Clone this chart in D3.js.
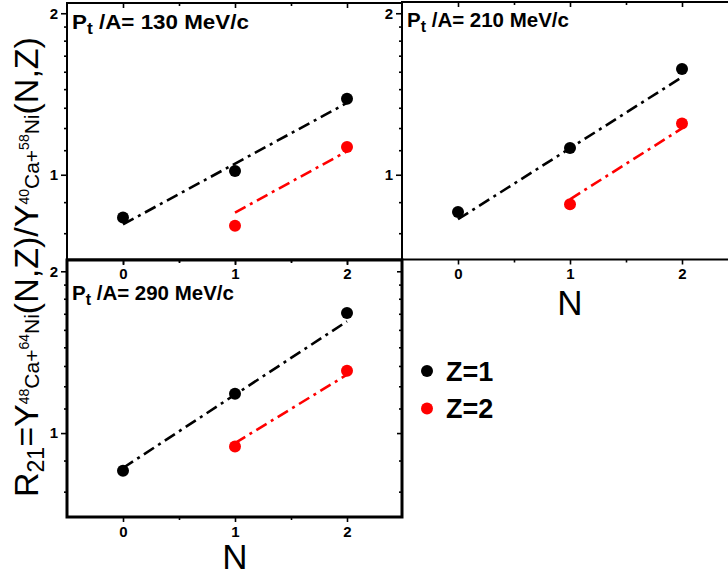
<!DOCTYPE html>
<html><head><meta charset="utf-8">
<script src="https://cdn.jsdelivr.net/npm/d3@7"></script>
<style>
body{margin:0;background:#fff}
svg{display:block}
text{font-family:"Liberation Sans",Arial,Helvetica,sans-serif}
</style>
</head><body>
<svg id="c" width="728" height="575"></svg>
<script>
// ---- data ----
const N_z1 = [0, 1, 2];
const N_z2 = [1, 2];
const fitN_z1 = [0, 2];
const fitN_z2 = [1, 2];
const ptLabels = ["130", "210", "290"];
const z1_130 = [0.832, 1.016, 1.386];
const z2_130 = [0.803, 1.127];
const fit1_130 = [0.808, 1.361];
const fit2_130 = [0.850, 1.106];
const z1_210 = [0.852, 1.122, 1.574];
const z2_210 = [0.881, 1.246];
const fit1_210 = [0.826, 1.52];
const fit2_210 = [0.900, 1.22];
const z1_290 = [0.851, 1.184, 1.673];
const z2_290 = [0.944, 1.306];
const fit1_290 = [0.861, 1.614];
const fit2_290 = [0.958, 1.284];
const xTicks = [0, 1, 2];
const xMinor = [0.5, 1.5];
const yTicks = [1, 2];
const yMinor = [0.778, 0.889, 1.111, 1.222, 1.333, 1.444, 1.556, 1.667, 1.778, 1.889];
const legendLabels = ["Z=1", "Z=2"];
const colors = ["#000000", "#ff0000"];

const svg = d3.select("#c");

const panels = [
  {pt: ptLabels[0], lx: 67, ft: 3, fb: 259.5, yt: 3, yb: 259.5, z1: z1_130, z2: z2_130, f1: fit1_130, f2: fit2_130, sw: 2, lblW: 177, lblY: 28.5, showN: false},
  {pt: ptLabels[1], lx: 402, ft: 2, fb: 259.5, yt: 3, yb: 259.5, z1: z1_210, z2: z2_210, f1: fit1_210, f2: fit2_210, sw: 2, lblW: 162, lblY: 27, showN: true},
  {pt: ptLabels[2], lx: 67, ft: 260, fb: 517, yt: 261, yb: 518, z1: z1_290, z2: z2_290, f1: fit1_290, f2: fit2_290, sw: 3, lblW: 162, lblY: 300, showN: true, rightAxis: true}
];

function styleAxis(g) {
  g.select(".domain").remove();
  g.attr("font-size", null).attr("font-family", null);
  g.selectAll(".tick line").attr("stroke", "#000").attr("stroke-width", 1.6);
  g.selectAll(".tick text").attr("fill", "#000")
    .style("font-size", "15px").style("font-weight", "bold")
    .style("font-family", '"Liberation Sans",Arial,sans-serif');
}

panels.forEach((p, i) => {
  const x = d3.scaleLinear([-0.5, 2.5], [p.lx, p.lx + 336]);
  const y = d3.scaleLog([0.695, 2.09], [p.yb, p.yt]);
  const g = svg.append("g");

  // frame
  g.append("rect").attr("x", p.lx).attr("y", p.ft)
    .attr("width", i === 1 ? 400 : 335).attr("height", p.fb - p.ft)
    .attr("fill", "none").attr("stroke", "#000").attr("stroke-width", p.sw);

  // bottom axis
  g.append("g").attr("transform", `translate(0,${p.fb})`)
    .call(d3.axisBottom(x).tickValues(xTicks).tickSize(5).tickPadding(4).tickFormat(d3.format("d")))
    .call(styleAxis);
  g.append("g").attr("transform", `translate(0,${p.fb})`)
    .call(d3.axisBottom(x).tickValues(xMinor).tickSize(3).tickFormat(""))
    .call(styleAxis);
  // top axis (inward)
  g.append("g").attr("transform", `translate(0,${p.ft})`)
    .call(d3.axisTop(x).tickValues(xTicks).tickSize(-5).tickFormat(""))
    .call(styleAxis);
  g.append("g").attr("transform", `translate(0,${p.ft})`)
    .call(d3.axisTop(x).tickValues(xMinor).tickSize(-3).tickFormat(""))
    .call(styleAxis);

  // left axis
  g.append("g").attr("transform", `translate(${p.lx},0)`)
    .call(d3.axisLeft(y).tickValues(yTicks).tickSize(6).tickPadding(3).tickFormat(d3.format("d")))
    .call(styleAxis);
  g.append("g").attr("transform", `translate(${p.lx},0)`)
    .call(d3.axisLeft(y).tickValues(yMinor).tickSize(3).tickFormat(""))
    .call(styleAxis);

  if (p.rightAxis) {
    g.append("g").attr("transform", `translate(${p.lx + 335},0)`)
      .call(d3.axisLeft(y).tickValues(yTicks).tickSize(5).tickFormat(""))
      .call(styleAxis);
    g.append("g").attr("transform", `translate(${p.lx + 335},0)`)
      .call(d3.axisLeft(y).tickValues(yMinor).tickSize(3).tickFormat(""))
      .call(styleAxis);
  }

  // fit lines
  const line = d3.line().x(d => x(d[0])).y(d => y(d[1]));
  g.append("path").datum(d3.zip(fitN_z1, p.f1)).attr("d", line)
    .attr("fill", "none").attr("stroke", colors[0]).attr("stroke-width", 2.6)
    .attr("stroke-dasharray", "12,5,3,5");
  g.append("path").datum(d3.zip(fitN_z2, p.f2)).attr("d", line)
    .attr("fill", "none").attr("stroke", colors[1]).attr("stroke-width", 2.6)
    .attr("stroke-dasharray", "12,5,3,5");

  // points
  g.selectAll(".p1").data(d3.zip(N_z1, p.z1)).join("circle")
    .attr("cx", d => x(d[0])).attr("cy", d => y(d[1])).attr("r", 6).attr("fill", colors[0]);
  g.selectAll(".p2").data(d3.zip(N_z2, p.z2)).join("circle")
    .attr("cx", d => x(d[0])).attr("cy", d => y(d[1])).attr("r", 6).attr("fill", colors[1]);

  // panel label
  const lg = g.append("g");
  const t = lg.append("text").attr("x", 0).attr("y", 0)
    .attr("font-weight", "bold").attr("font-size", 20.5).attr("fill", "#000");
  t.append("tspan").text("P");
  t.append("tspan").attr("font-size", 16).attr("dy", 5).text("t");
  t.append("tspan").attr("dy", -5).text("\u00a0/A= " + p.pt + " MeV/c");
  const w = t.node().getBBox().width;
  lg.attr("transform", `translate(${p.lx + 5},${p.lblY}) scale(${p.lblW / w},1)`);

  if (p.showN) {
    g.append("text").attr("x", x(1)).attr("y", i === 1 ? 315 : 569)
      .attr("text-anchor", "middle").attr("font-size", 35).attr("fill", "#000").text("N");
  }
});

// y-axis title
const yl = svg.append("g");
const yt = yl.append("text").attr("font-size", 34).attr("fill", "#000");
yt.append("tspan").text("R");
yt.append("tspan").attr("font-size", 23).attr("dy", 6).text("21");
yt.append("tspan").attr("dy", -6).text("=Y");
yt.append("tspan").attr("font-size", 14).attr("dy", -9).text("48");
yt.append("tspan").attr("font-size", 21).attr("dy", 10).text("Ca+");
yt.append("tspan").attr("font-size", 14).attr("dy", -10).text("64");
yt.append("tspan").attr("font-size", 21).attr("dy", 10).text("Ni");
yt.append("tspan").attr("dy", -1).text("(N,Z)/Y");
yt.append("tspan").attr("font-size", 14).attr("dy", -9).text("40");
yt.append("tspan").attr("font-size", 21).attr("dy", 10).text("Ca+");
yt.append("tspan").attr("font-size", 14).attr("dy", -10).text("58");
yt.append("tspan").attr("font-size", 21).attr("dy", 10).text("Ni");
yt.append("tspan").attr("dy", -1).text("(N,Z)");
const yw = yt.node().getBBox().width;
yl.attr("transform", `translate(38,497) rotate(-90) scale(${460 / yw},1)`);

// legend
legendLabels.forEach((lab, i) => {
  const cy = 371 + i * 37.5;
  svg.append("circle").attr("cx", 427).attr("cy", cy).attr("r", 6).attr("fill", colors[i]);
  svg.append("text").attr("x", 446).attr("y", cy + 9.5).attr("font-size", 27)
    .attr("font-weight", "bold").attr("fill", "#000").text(lab);
});
</script>
</body></html>
